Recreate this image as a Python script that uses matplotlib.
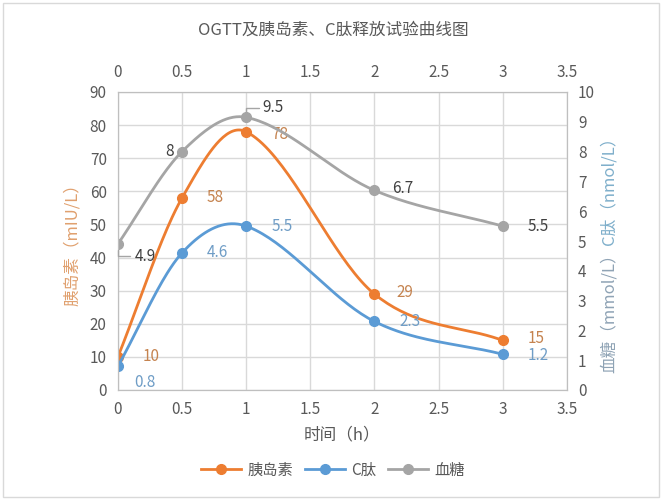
import matplotlib
matplotlib.use('Agg')
import matplotlib.pyplot as plt
from matplotlib.lines import Line2D
from matplotlib.patches import Rectangle
import numpy as np

plt.rcParams['font.family'] = ['Noto Sans CJK SC', 'DejaVu Sans']

# data
hours = [0, 0.5, 1, 2, 3]
insulin = [10, 58, 78, 29, 15]
insulin_labels = ['10', '58', '78', '29', '15']
cpep = [0.8, 4.6, 5.5, 2.3, 1.2]
cpep_labels = ['0.8', '4.6', '5.5', '2.3', '1.2']
glucose = [4.9, 8.0, 9.15, 6.7, 5.5]
glucose_labels = ['4.9', '8', '9.5', '6.7', '5.5']

c_ins = '#ED7D31'
c_cp = '#5B9BD5'
c_glu = '#A5A5A5'
txt = '#595959'
grid = '#D9D9D9'


def smooth(x, y, n=40):
    # smoothed line, cubic hermite with finite-difference slopes
    x = np.asarray(x, float)
    y = np.asarray(y, float)
    m = np.zeros_like(y)
    m[0] = (y[1] - y[0]) / (x[1] - x[0])
    m[-1] = (y[-1] - y[-2]) / (x[-1] - x[-2])
    m[1:-1] = (y[2:] - y[:-2]) / (x[2:] - x[:-2])
    xs, ys = [], []
    t = np.linspace(0, 1, n)
    for i in range(len(x) - 1):
        h = x[i + 1] - x[i]
        h00 = 2 * t ** 3 - 3 * t ** 2 + 1
        h10 = t ** 3 - 2 * t ** 2 + t
        h01 = -2 * t ** 3 + 3 * t ** 2
        h11 = t ** 3 - t ** 2
        xs.extend(x[i] + t * h)
        ys.extend(h00 * y[i] + h10 * h * m[i] + h01 * y[i + 1] + h11 * h * m[i + 1])
    return xs, ys


fig = plt.figure(figsize=(6.66, 5), dpi=100)
fig.patches.append(Rectangle((0.005, 0.006), 0.985, 0.988, transform=fig.transFigure,
                             fill=False, edgecolor='#D9D9D9', lw=1))
ax = fig.add_axes([0.177, 0.22, 0.674, 0.596])
ax2 = ax.twinx()

ax.set_xlim(0, 3.5)
ax.set_ylim(0, 90)
ax2.set_ylim(0, 10)
ax.set_xticks(np.arange(0, 3.51, 0.5))
ax.set_xticklabels(['0', '0.5', '1', '1.5', '2', '2.5', '3', '3.5'])
ax.set_yticks(np.arange(0, 91, 10))
ax2.set_yticks(np.arange(0, 11, 1))
ax.grid(True, color=grid, lw=1)
ax.set_axisbelow(True)
for a in (ax, ax2):
    for s in a.spines.values():
        s.set_color('#BFBFBF')
    a.tick_params(length=0, colors=txt, labelsize=11)
ax.tick_params(axis='x', labeltop=True, pad=8)
ax.tick_params(axis='y', pad=8)
ax2.tick_params(axis='y', pad=8)

# lines
sx, sy = smooth(hours, insulin)
ax.plot(sx, sy, color=c_ins, lw=2)
ax.plot(hours, insulin, 'o', color=c_ins, ms=7)
sx, sy = smooth(hours, cpep)
ax2.plot(sx, sy, color=c_cp, lw=2)
ax2.plot(hours, cpep, 'o', color=c_cp, ms=7)
sx, sy = smooth(hours, glucose)
ax2.plot(sx, sy, color=c_glu, lw=2)
ax2.plot(hours, glucose, 'o', color=c_glu, ms=7)

# data labels
ins_off = [(18, 0), (18, 0), (18, -2), (16, 1), (18, 1)]
for x, y, l, o in zip(hours, insulin, insulin_labels, ins_off):
    ax.annotate(l, (x, y), xytext=o, textcoords='offset points', ha='left', va='center',
                color='#C5834F', fontsize=11)
cp_off = [(12, -12), (18, 0), (18, 0), (18, 0), (18, -1)]
for x, y, l, o in zip(hours, cpep, cpep_labels, cp_off):
    ax2.annotate(l, (x, y), xytext=o, textcoords='offset points', ha='left', va='center',
                 color='#6F9DC6', fontsize=11)
glu_off = [(12, -9), (-6, 0), (12, 7), (13, 1), (18, 0)]
glu_ha = ['left', 'right', 'left', 'left', 'left']
for i, (x, y, l) in enumerate(zip(hours, glucose, glucose_labels)):
    arrow = None
    if i in (0, 2):
        arrow = dict(arrowstyle='-', color='#A5A5A5', lw=1, shrinkA=1, shrinkB=4,
                     connectionstyle='angle,angleA=0,angleB=90,rad=0')
    ax2.annotate(l, (x, y), xytext=glu_off[i], textcoords='offset points', ha=glu_ha[i],
                 va='center', color='#404040', fontsize=11, arrowprops=arrow)

# titles / axis labels
fig.text(0.5, 0.94, 'OGTT及胰岛素、C肽释放试验曲线图', ha='center', va='center',
         color=txt, fontsize=12)
ax.set_xlabel('时间（h）', color=txt, fontsize=12, labelpad=6)
ax.set_ylabel('胰岛素（mIU/L）', color='#E0A06E', fontsize=12, labelpad=6)
fig.text(0.915, 0.51, '血糖（mmol/L）', rotation=90, rotation_mode='anchor',
         ha='right', va='center', color='#8FA3B5', fontsize=12)
fig.text(0.915, 0.51, 'C肽（nmol/L）', rotation=90, rotation_mode='anchor',
         ha='left', va='center', color='#7FAFCB', fontsize=12)

handles = [Line2D([], [], color=c_ins, lw=2, marker='o', ms=7),
           Line2D([], [], color=c_cp, lw=2, marker='o', ms=7),
           Line2D([], [], color=c_glu, lw=2, marker='o', ms=7)]
fig.legend(handles, ['胰岛素', 'C肽', '血糖'], loc='center', bbox_to_anchor=(0.5, 0.06),
           ncol=3, frameon=False, fontsize=11, labelcolor=txt, handlelength=2.6,
           columnspacing=0.8, handletextpad=0.4)

fig.savefig('out.png', dpi=100)
